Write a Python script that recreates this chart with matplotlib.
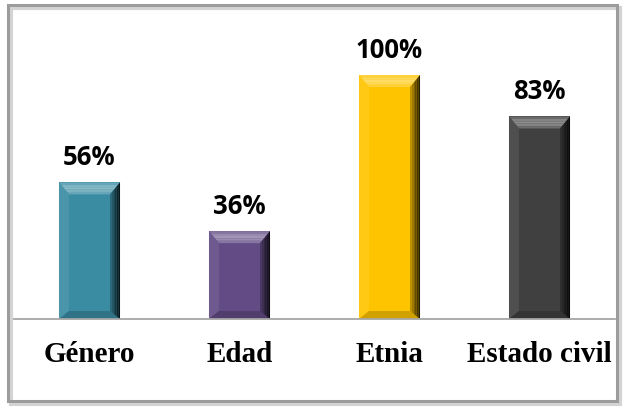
import numpy as np
import matplotlib.pyplot as plt
from matplotlib.patches import Polygon, Rectangle
from matplotlib.colors import to_rgb

categorias = ["Género", "Edad", "Etnia", "Estado civil"]
porcentajes = [56, 36, 100, 83]
colores = ["#3A8CA3", "#634C85", "#FFC400", "#404040"]

W, H = 625, 409
fig = plt.figure(figsize=(W / 100, H / 100), dpi=100)

# axes placed in pixel units: baseline at y=319, slots 150 px wide
ax_left, ax_right = 14.5, 614.5
ax_base, ax_top = 319, 14
ax = fig.add_axes([ax_left / W, (H - ax_base) / H,
                   (ax_right - ax_left) / W, (ax_base - ax_top) / H])
ymax = 125
ax.set_xlim(-0.5, 3.5)
ax.set_ylim(0, ymax)
ax.axis("off")

x = np.arange(len(categorias))
ancho = 0.407
barras = ax.bar(x, porcentajes, width=ancho, color=colores, zorder=2)


def mezcla(c, otro, t):
    c, o = np.array(to_rgb(c)), np.array(to_rgb(otro))
    return tuple(c * (1 - t) + o * t)


# bevel depth in data units (about 10 px)
px_x = (ax_right - ax_left) / 4.0
px_y = (ax_base - ax_top) / ymax
bx, by_top, by_bot = 10 / px_x, 12 / px_y, 8 / px_y

for b, c in zip(barras, colores):
    x0, x1 = b.get_x(), b.get_x() + b.get_width()
    y0, y1 = 0, b.get_height()
    # top face, lighter toward the middle
    n = 5
    for i in range(n):
        t0, t1 = i / n, (i + 1) / n
        ya, yb = y1 - by_top * t0, y1 - by_top * t1
        ax.add_patch(Polygon([(x0 + bx * t0, ya), (x1 - bx * t0, ya),
                              (x1 - bx * t1, yb), (x0 + bx * t1, yb)],
                             closed=True, lw=0, zorder=3,
                             color=mezcla(c, "white", 0.15 + 0.25 * np.sin(np.pi * (i + 0.5) / n))))
    # left face
    ax.add_patch(Polygon([(x0, y0), (x0, y1), (x0 + bx, y1 - by_top), (x0 + bx, y0 + by_bot)],
                         closed=True, color=mezcla(c, "white", 0.08), lw=0, zorder=3))
    # bottom face
    ax.add_patch(Polygon([(x0, y0), (x1, y0), (x1 - bx, y0 + by_bot), (x0 + bx, y0 + by_bot)],
                         closed=True, color=mezcla(c, "black", 0.18), lw=0, zorder=3))
    # right face as a gradient toward black
    n = 6
    for i in range(n):
        t0, t1 = i / n, (i + 1) / n
        xa, xb = x1 - bx + bx * t0, x1 - bx + bx * t1
        ya_t = y1 - by_top * (1 - t0)
        yb_t = y1 - by_top * (1 - t1)
        ya_b = y0 + by_bot * (1 - t0)
        yb_b = y0 + by_bot * (1 - t1)
        ax.add_patch(Polygon([(xa, ya_b), (xa, ya_t), (xb, yb_t), (xb, yb_b)],
                             closed=True, color=mezcla(c, "black", 0.15 + 0.7 * t1),
                             lw=0, zorder=3))
    ax.text(b.get_x() + b.get_width() / 2, y1 + 25 / px_y, f"{b.get_height():.0f}%",
            ha="center", va="center", fontsize=18.5, fontweight="bold",
            family="Open Sans", color="black")

# baseline
ax.plot([-0.5 - 2.5 / px_x, 3.5], [0, 0], color="#A6A6A6", lw=1.3,
        zorder=4, clip_on=False)

for xi, cat in zip(x, categorias):
    ax.text(xi, -36 / px_y, cat, ha="center", va="center", fontsize=21,
            fontweight="bold", family="Liberation Serif", color="black",
            clip_on=False)

# chart border with soft shadow
def caja(x0, y0, x1, y1, **kw):
    fig.patches.append(Rectangle((x0 / W, 1 - y1 / H), (x1 - x0) / W, (y1 - y0) / H,
                                 transform=fig.transFigure, fill=False, **kw))

caja(11, 8, 620, 404, edgecolor="#D4D4D4", lw=3)
caja(8, 5, 617, 401, edgecolor="#9C9C9C", lw=2.2)

fig.savefig("out.png", dpi=100)
